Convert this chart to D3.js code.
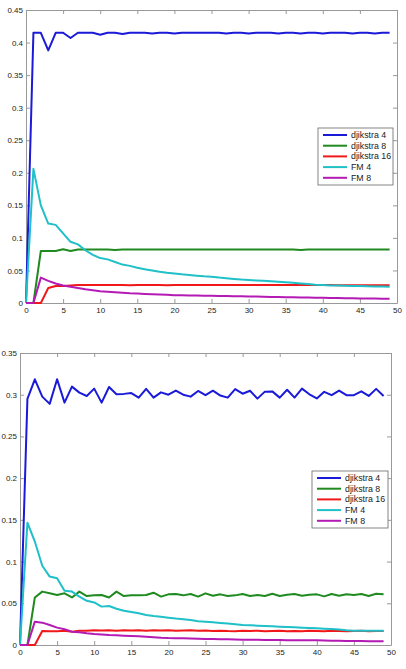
<!DOCTYPE html>
<html>
<head>
<meta charset="utf-8">
<script src="https://cdn.jsdelivr.net/npm/d3@7"></script>
<style>
  body { margin: 0; background: #fff; }
  svg text { font-family: "Liberation Sans", Arial, sans-serif; font-size: 8px; fill: #222; }
</style>
</head>
<body>
<div id="chart"></div>
<script>
// series names and colours (MATLAB default style)
var names = ["djikstra 4", "djikstra 8", "djikstra 16", "FM 4", "FM 8"];
var colors = ["#1a1ad8", "#1f8a1f", "#f01818", "#1fc0c8", "#b41ab4"];
var xTicks = d3.range(0, 51, 5);

// top panel
var topD4 = [0, .415, .415, .388, .415, .415, .407, .415, .415, .415,
  .412, .415, .415, .413, .415, .415, .415, .414, .415, .415,
  .414, .415, .415, .415, .415, .415, .415, .414, .415, .415,
  .414, .415, .415, .415, .414, .415, .415, .414, .415, .415,
  .414, .415, .415, .415, .414, .415, .415, .414, .415, .415];
var topD8 = [0, 0, .080, .080, .080, .0825, .080, .082, .082, .082,
  .082, .082, .0815, .082, .082, .082, .082, .082, .082, .082,
  .082, .082, .082, .082, .082, .082, .082, .082, .082, .082,
  .082, .082, .082, .082, .082, .082, .082, .0815, .082, .082,
  .082, .082, .082, .082, .082, .082, .082, .082, .082, .082];
var topD16 = [0, 0, 0, .023, .026, .026, .027, .0275, .0275, .0275,
  .0275, .0275, .0275, .0275, .0272, .0275, .0275, .0275, .0275, .0272,
  .0275, .0275, .0275, .0275, .0275, .0275, .0275, .0275, .0275, .0275,
  .0275, .0275, .0275, .0275, .0275, .0275, .0275, .0275, .0275, .0275,
  .0275, .0275, .0272, .0272, .0272, .0272, .0272, .0272, .0272, .0272];
var topFM4 = [0, .206, .150, .122, .120, .107, .094, .090, .081, .074,
  .069, .067, .063, .059, .057, .054, .052, .050, .048, .0465,
  .0454, .044, .043, .042, .041, .0404, .039, .038, .037, .036,
  .0353, .0346, .034, .0333, .0325, .0318, .031, .030, .029, .028,
  .0276, .027, .0267, .0264, .0262, .026, .0257, .0254, .0252, .025];
var topFM8 = [0, 0, .039, .034, .030, .027, .025, .023, .021, .0195,
  .018, .0172, .0165, .0158, .015, .0145, .014, .0135, .013, .0125,
  .012, .0118, .0116, .0114, .0112, .011, .0108, .0106, .0104, .0102,
  .0100, .0098, .0096, .0094, .0092, .0090, .0088, .0086, .0084, .0082,
  .0080, .0078, .0076, .0074, .0072, .0071, .0070, .0069, .0067, .0066];

// bottom panel
var botD4 = [0, .295, .3185, .2977, .289, .3185, .2905, .3097, .3025, .2985,
  .3073, .2905, .3093, .3005, .301, .302, .2965, .307, .2965, .3028,
  .300, .305, .300, .2977, .3045, .2995, .3048, .299, .2965, .3068,
  .3012, .3048, .2953, .3037, .304, .2965, .306, .2965, .3073, .3005,
  .2955, .3035, .2995, .305, .2995, .2995, .304, .2985, .307, .2985];
var botD8 = [0, 0, .057, .064, .062, .060, .062, .057, .064, .0587,
  .0595, .060, .057, .064, .0587, .0595, .0595, .060, .0627, .058,
  .0607, .061, .0595, .0611, .058, .0619, .0591, .0607, .0587, .0595,
  .0611, .0587, .0599, .0587, .0615, .0587, .0603, .0611, .0591, .0603,
  .0607, .0583, .0611, .0591, .0607, .0599, .0611, .0587, .0615, .0607];
var botD16 = [0, 0, 0, .0168, .0164, .0164, .017, .016, .017, .0172,
  .0176, .0174, .0176, .0172, .0176, .0174, .0176, .0172, .0176, .0174,
  .0176, .0172, .0174, .0176, .0172, .0174, .0168, .0172, .0168, .0166,
  .0170, .0168, .0172, .0166, .0168, .0170, .0166, .0168, .0164, .0170,
  .0168, .0166, .0170, .0168, .0166, .0168, .0170, .0166, .0168, .0168];
var botFM4 = [0, .1466, .124, .095, .082, .080, .065, .064, .058, .053,
  .051, .046, .0467, .0435, .041, .0396, .038, .036, .0348, .034,
  .0328, .0318, .031, .030, .0285, .028, .0272, .0265, .0258, .025,
  .024, .0236, .0232, .0228, .0224, .022, .0216, .0212, .0208, .0204,
  .020, .0196, .0192, .0186, .0178, .0172, .0172, .0172, .0172, .0172];
var botFM8 = [0, 0, .028, .0268, .024, .0208, .0188, .016, .0152, .014,
  .0132, .0126, .012, .0116, .0112, .0108, .0104, .010, .0094, .0088,
  .0084, .0082, .008, .0078, .0075, .0072, .0071, .007, .0068, .0066,
  .0064, .0063, .0062, .0061, .006, .0059, .0058, .0057, .0056, .0056,
  .0056, .0054, .0052, .005, .0049, .0048, .0047, .0046, .0045, .0044];

var topYTicks = d3.range(0, 0.451, 0.05);
var botYTicks = d3.range(0, 0.351, 0.05);

var svg = d3.select("#chart").append("svg")
    .attr("width", 406)
    .attr("height", 669);

function drawPanel(box, yMax, yTicks, series, leg) {
    var x = d3.scaleLinear().domain([0, 50]).range([box.left, box.right]);
    var y = d3.scaleLinear().domain([0, yMax]).range([box.bottom, box.top]);
    var g = svg.append("g");
    var fmt = function(d) { return d3.format(".2~f")(d); };

    // axes, ticks inward on all four sides
    g.append("g").attr("transform", "translate(0," + box.bottom + ")")
        .call(d3.axisBottom(x).tickValues(xTicks).tickSizeInner(-4).tickSizeOuter(0).tickPadding(4).tickFormat(d3.format("d")));
    g.append("g").attr("transform", "translate(0," + box.top + ")")
        .call(d3.axisTop(x).tickValues(xTicks).tickSizeInner(-4).tickSizeOuter(0).tickFormat(""));
    g.append("g").attr("transform", "translate(" + box.left + ",0)")
        .call(d3.axisLeft(y).tickValues(yTicks).tickSizeInner(-4).tickSizeOuter(0).tickPadding(3).tickFormat(fmt));
    g.append("g").attr("transform", "translate(" + box.right + ",0)")
        .call(d3.axisRight(y).tickValues(yTicks).tickSizeInner(-4).tickSizeOuter(0).tickFormat(""));
    g.selectAll(".domain, .tick line").attr("stroke", "#999");
    g.selectAll(".tick text").style("font-size", "8px").attr("fill", "#222");

    var line = d3.line()
        .x(function(d, i) { return x(i); })
        .y(function(d) { return y(d); });

    series.forEach(function(s, k) {
        g.append("path")
            .datum(s)
            .attr("fill", "none")
            .attr("stroke", colors[k])
            .attr("stroke-width", 2)
            .attr("stroke-linejoin", "round")
            .attr("d", line);
    });

    // legend
    var lg = g.append("g").attr("transform", "translate(" + leg.x + "," + leg.y + ")");
    lg.append("rect").attr("width", leg.w).attr("height", 57)
        .attr("fill", "#fff").attr("stroke", "#666").attr("stroke-width", 0.8);
    names.forEach(function(n, k) {
        var yy = 7 + k * 10.7;
        lg.append("line").attr("x1", 5).attr("x2", 29).attr("y1", yy).attr("y2", yy)
            .attr("stroke", colors[k]).attr("stroke-width", 2);
        lg.append("text").attr("x", 33).attr("y", yy + 3).style("font-size", "8.8px").text(n);
    });
}

drawPanel({left: 26, right: 397, top: 10, bottom: 303}, 0.45, topYTicks,
    [topD4, topD8, topD16, topFM4, topFM8], {x: 318, y: 128, w: 75});
drawPanel({left: 20, right: 391, top: 353, bottom: 645}, 0.35, botYTicks,
    [botD4, botD8, botD16, botFM4, botFM8], {x: 312, y: 471, w: 76});
</script>
</body>
</html>
